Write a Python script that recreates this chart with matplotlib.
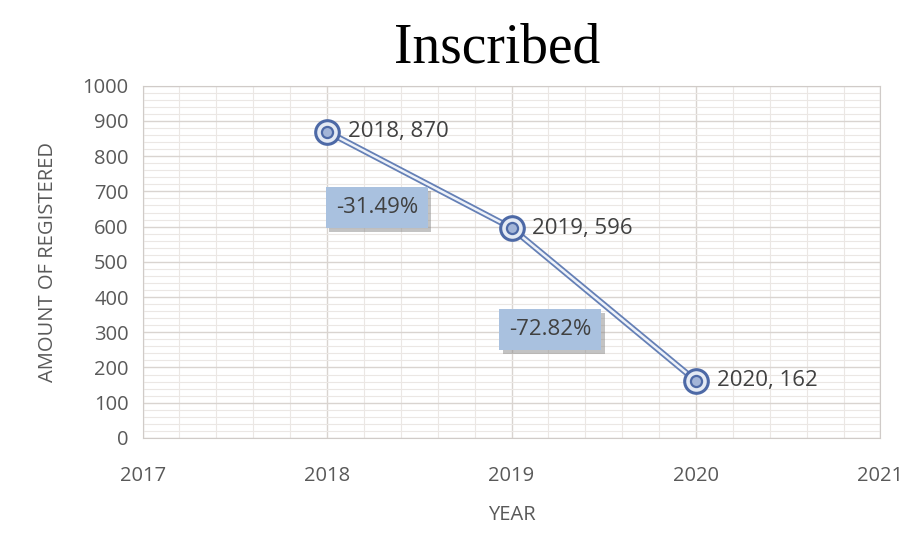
import matplotlib.pyplot as plt
import matplotlib.patheffects as pe
from matplotlib.ticker import MultipleLocator

years = [2018, 2019, 2020]
registered = [870, 596, 162]
point_labels = ["2018, 870", "2019, 596", "2020, 162"]
change_labels = ["-31.49%", "-72.82%"]
change_pos = [(2018.27, 653), (2019.21, 307)]

plt.rcParams['font.family'] = ['Open Sans', 'DejaVu Sans']
grey = '#595959'

fig = plt.figure(figsize=(9.2, 5.36), dpi=100)
ax = fig.add_axes([0.155, 0.183, 0.802, 0.657])

ax.set_xlim(2017, 2021)
ax.set_ylim(0, 1000)
ax.xaxis.set_major_locator(MultipleLocator(1))
ax.xaxis.set_minor_locator(MultipleLocator(0.2))
ax.yaxis.set_major_locator(MultipleLocator(100))
ax.yaxis.set_minor_locator(MultipleLocator(20))
ax.grid(which='major', color='#d9d4d0', linewidth=1.0)
ax.grid(which='minor', color='#ebe7e4', linewidth=0.8)
ax.set_axisbelow(True)
for s in ax.spines.values():
    s.set_color('#d0cbc8')
ax.tick_params(which='both', length=0, colors=grey, labelsize=14.5)
ax.tick_params(axis='x', pad=20)
ax.tick_params(axis='y', pad=10)

# double line like Excel compound line
ax.plot(years, registered, color='#6580b6', linewidth=4.4, solid_capstyle='round', zorder=3)
ax.plot(years, registered, color='#eef2f9', linewidth=1.8, solid_capstyle='round', zorder=4)
ax.plot(years, registered, linestyle='none', marker='o', markersize=17,
        markerfacecolor='#e4eaf4', markeredgecolor='#4d69a6', markeredgewidth=2.2, zorder=5)
ax.plot(years, registered, linestyle='none', marker='o', markersize=8,
        markerfacecolor='#a3b5d8', markeredgecolor='#4d69a6', markeredgewidth=1.6, zorder=6)

for x, y, lab in zip(years, registered, point_labels):
    ax.annotate(lab, (x, y), xytext=(15, 0), textcoords='offset points',
                va='center', ha='left', fontsize=16, color='#404040')

for (x, y), lab in zip(change_pos, change_labels):
    t = ax.text(x, y, lab, ha='center', va='center', fontsize=16, color='#404040',
                bbox=dict(boxstyle='square,pad=0.45', facecolor='#a9c1df', edgecolor='none'),
                zorder=7)
    t.get_bbox_patch().set_path_effects([
        pe.SimplePatchShadow(offset=(2.5, -2.5), shadow_rgbFace='#888888', alpha=0.5),
        pe.Normal()])

ax.set_xlabel('YEAR', color=grey, fontsize=14.5, labelpad=14)
ax.set_ylabel('AMOUNT OF REGISTERED', color=grey, fontsize=14.5, labelpad=18)
fig.text(0.54, 0.91, 'Inscribed', ha='center', va='center', fontsize=40,
         family='Liberation Serif', color='black')

fig.savefig('out.png', dpi=100)
